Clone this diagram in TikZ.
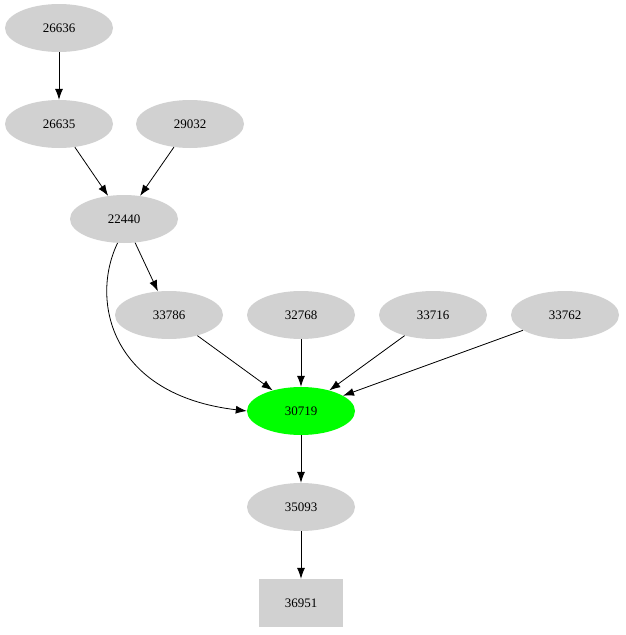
\documentclass[tikz,border=0pt]{standalone}
\usepackage{fontspec}
\setmainfont{Liberation Serif}
\usetikzlibrary{shapes.geometric,arrows.meta}
\tikzstyle{gnode}=[ellipse, fill=black!18, inner sep=0pt, minimum width=108pt, minimum height=48pt, font=\fontsize{13pt}{15pt}\selectfont]
\tikzstyle{hnode}=[gnode, fill={rgb,255:red,0;green,255;blue,0}]
\tikzstyle{bnode}=[rectangle, fill=black!18, inner sep=0pt, minimum width=84pt, minimum height=48pt, font=\fontsize{13pt}{15pt}\selectfont]
\tikzstyle{edge}=[-{Latex[length=11pt,width=8pt]}, line width=0.8pt]

\begin{document}
\begin{tikzpicture}[x=1pt, y=-1pt]
        \useasboundingbox (0,0) rectangle (625,635);
        \node[gnode] (n26636) at (59, 28)  {26636};
        \node[gnode] (n26635) at (59, 124) {26635};
        \node[gnode] (n29032) at (190, 124) {29032};
        \node[gnode] (n22440) at (124, 219) {22440};
        \node[gnode] (n33786) at (169, 315) {33786};
        \node[gnode] (n32768) at (301, 315) {32768};
        \node[gnode] (n33716) at (433, 315) {33716};
        \node[gnode] (n33762) at (565, 315) {33762};
        \node[hnode] (n30719) at (301, 411) {30719};
        \node[gnode] (n35093) at (301, 507) {35093};
        \node[bnode] (n36951) at (301, 603) {36951};
        \draw[edge] (n26636) -- (n26635);
        \draw[edge] (n26635) -- (n22440);
        \draw[edge] (n29032) -- (n22440);
        \draw[edge] (n22440) -- (n33786);
        \draw[edge] (n22440.255) .. controls (90,300) and (110,395) .. (n30719.west);
        \draw[edge] (n33786) -- (n30719);
        \draw[edge] (n32768) -- (n30719);
        \draw[edge] (n33716) -- (n30719);
        \draw[edge] (n33762) -- (n30719);
        \draw[edge] (n30719) -- (n35093);
        \draw[edge] (n35093) -- (n36951);
    \end{tikzpicture}
\end{document}
